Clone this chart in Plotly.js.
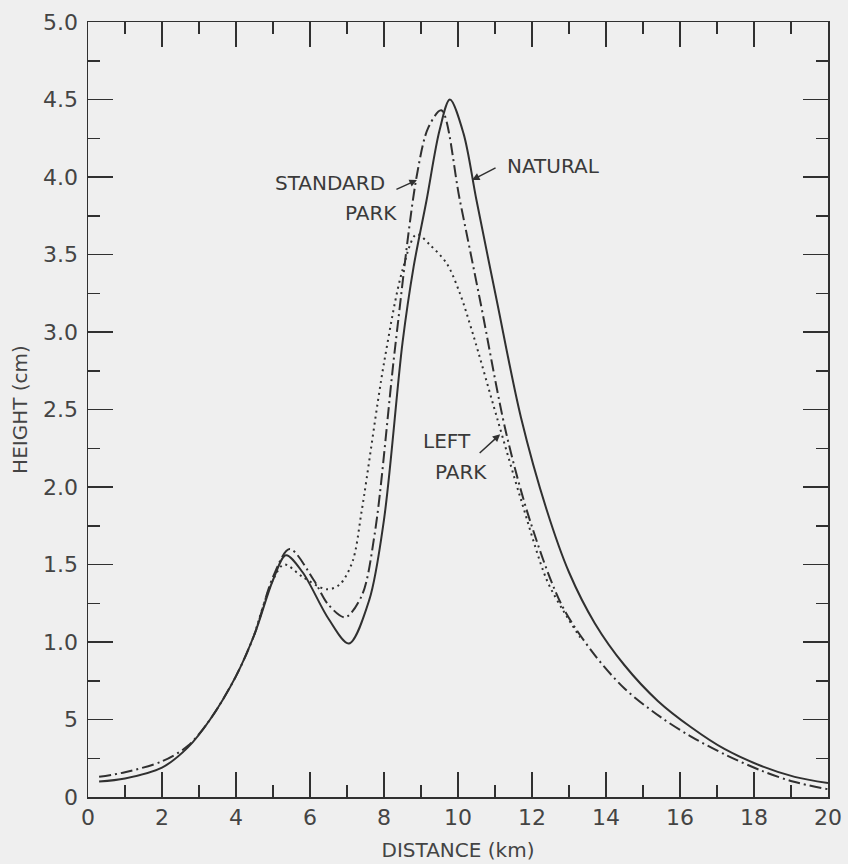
<!DOCTYPE html>
<html>
<head>
<meta charset="utf-8">
<script src="https://cdn.plot.ly/plotly-3.0.1.min.js"></script>
<style>
  html, body { margin: 0; padding: 0; background: #efefef; }
  #chart { width: 848px; height: 864px; }
</style>
</head>
<body>
<div id="chart"></div>
<script>
// ---- Data ----
const naturalX = [0.3, 1.0, 2.0, 2.7, 3.3, 4.0, 4.5, 5.0, 5.35, 5.8, 6.5, 7.05, 7.6, 8.0, 8.5, 8.8, 9.15, 9.5, 9.78, 10.15, 10.5, 11.05, 11.7, 12.4, 13.0, 13.7, 14.5, 15.4, 16.3, 17.2, 18.2, 19.1, 20.0];
const naturalY = [0.10, 0.12, 0.19, 0.32, 0.50, 0.78, 1.05, 1.40, 1.56, 1.45, 1.15, 0.99, 1.27, 1.79, 2.93, 3.42, 3.85, 4.30, 4.50, 4.28, 3.85, 3.20, 2.45, 1.85, 1.45, 1.12, 0.85, 0.62, 0.45, 0.31, 0.20, 0.13, 0.09];

const standardX = [0.3, 1.0, 2.0, 2.7, 3.3, 4.0, 4.5, 5.0, 5.45, 6.1, 6.5, 6.95, 7.4, 7.75, 8.3, 8.88, 9.2, 9.55, 10.05, 10.6, 11.3, 11.95, 12.8, 13.65, 14.5, 15.45, 16.3, 17.25, 18.2, 19.05, 20.0];
const standardY = [0.13, 0.16, 0.23, 0.33, 0.50, 0.78, 1.05, 1.42, 1.60, 1.40, 1.24, 1.16, 1.30, 1.70, 2.90, 4.00, 4.32, 4.43, 3.85, 3.20, 2.35, 1.78, 1.24, 0.93, 0.70, 0.52, 0.39, 0.27, 0.17, 0.10, 0.05];

const leftX = [4.5, 5.0, 5.3, 5.8, 6.45, 6.8, 7.15, 7.4, 8.0, 8.5, 8.88, 9.25, 9.7, 10.05, 10.4, 11.05, 11.7, 12.4, 12.85, 13.3];
const leftY = [1.05, 1.40, 1.50, 1.42, 1.34, 1.37, 1.52, 1.85, 2.80, 3.40, 3.63, 3.56, 3.44, 3.25, 2.99, 2.45, 1.92, 1.40, 1.20, 1.03];

const yTickVals = [0, 0.5, 1.0, 1.5, 2.0, 2.5, 3.0, 3.5, 4.0, 4.5, 5.0];
const yTickText = ["0", "5", "1.0", "1.5", "2.0", "2.5", "3.0", "3.5", "4.0", "4.5", "5.0"];
const xTickVals = [0, 2, 4, 6, 8, 10, 12, 14, 16, 18, 20];
const xTickText = ["0", "2", "4", "6", "8", "10", "12", "14", "16", "18", "20"];

const ink = "#303030";
const labelFont = { family: "DejaVu Sans, sans-serif", size: 20, color: "#3a3a3a" };

const traces = [
  { x: naturalX, y: naturalY, mode: "lines", name: "NATURAL",
    line: { color: ink, width: 2, shape: "spline", smoothing: 0.9 } },
  { x: standardX, y: standardY, mode: "lines", name: "STANDARD PARK",
    line: { color: ink, width: 2, dash: "12px,4px,2px,4px", shape: "spline", smoothing: 0.9 } },
  { x: leftX, y: leftY, mode: "lines", name: "LEFT PARK",
    line: { color: ink, width: 2, dash: "2px,4px", shape: "spline", smoothing: 0.9 } }
];

const axisCommon = {
  showgrid: false, zeroline: false,
  showline: true, linecolor: ink, linewidth: 1.5,
  mirror: "allticks", ticks: "inside", ticklen: 25, tickwidth: 1.5, tickcolor: ink,
  tickfont: { family: "DejaVu Sans, sans-serif", size: 22, color: "#444" }
};

const layout = {
  width: 848, height: 864,
  paper_bgcolor: "#efefef", plot_bgcolor: "#efefef",
  margin: { l: 88, r: 20, t: 22, b: 67 },
  showlegend: false,
  xaxis: Object.assign({}, axisCommon, {
    range: [0, 20], tickmode: "array", tickvals: xTickVals, ticktext: xTickText,
    minor: { dtick: 1, ticks: "inside", ticklen: 12, tickwidth: 1.5, tickcolor: ink, showgrid: false },
    title: { text: "DISTANCE (km)", standoff: 14,
      font: { family: "DejaVu Sans, sans-serif", size: 20, color: "#444" } }
  }),
  yaxis: Object.assign({}, axisCommon, {
    range: [0, 5], tickmode: "array", tickvals: yTickVals, ticktext: yTickText,
    minor: { dtick: 0.25, ticks: "inside", ticklen: 12, tickwidth: 1.5, tickcolor: ink, showgrid: false },
    ticklabelstandoff: 4,
    title: { text: "HEIGHT (cm)", standoff: 10,
      font: { family: "DejaVu Sans, sans-serif", size: 20, color: "#444" } }
  }),
  annotations: [
    { x: 6.54, y: 3.96, xref: "x", yref: "y", text: "STANDARD", showarrow: false, font: labelFont },
    { x: 7.65, y: 3.77, xref: "x", yref: "y", text: "PARK", showarrow: false, font: labelFont },
    { x: 8.89, y: 3.98, xref: "x", yref: "y", text: "", showarrow: true, ax: -22, ay: 10,
      arrowhead: 2, arrowsize: 1, arrowwidth: 1.5, arrowcolor: ink },
    { x: 12.57, y: 4.07, xref: "x", yref: "y", text: "NATURAL", showarrow: false, font: labelFont },
    { x: 10.38, y: 3.98, xref: "x", yref: "y", text: "", showarrow: true, ax: 25, ay: -13,
      arrowhead: 2, arrowsize: 1, arrowwidth: 1.5, arrowcolor: ink },
    { x: 9.70, y: 2.30, xref: "x", yref: "y", text: "LEFT", showarrow: false, font: labelFont },
    { x: 10.08, y: 2.10, xref: "x", yref: "y", text: "PARK", showarrow: false, font: labelFont },
    { x: 11.14, y: 2.34, xref: "x", yref: "y", text: "", showarrow: true, ax: -22, ay: 20,
      arrowhead: 2, arrowsize: 1, arrowwidth: 1.5, arrowcolor: ink }
  ]
};

Plotly.newPlot("chart", traces, layout, { staticPlot: true, displayModeBar: false });
</script>
</body>
</html>
